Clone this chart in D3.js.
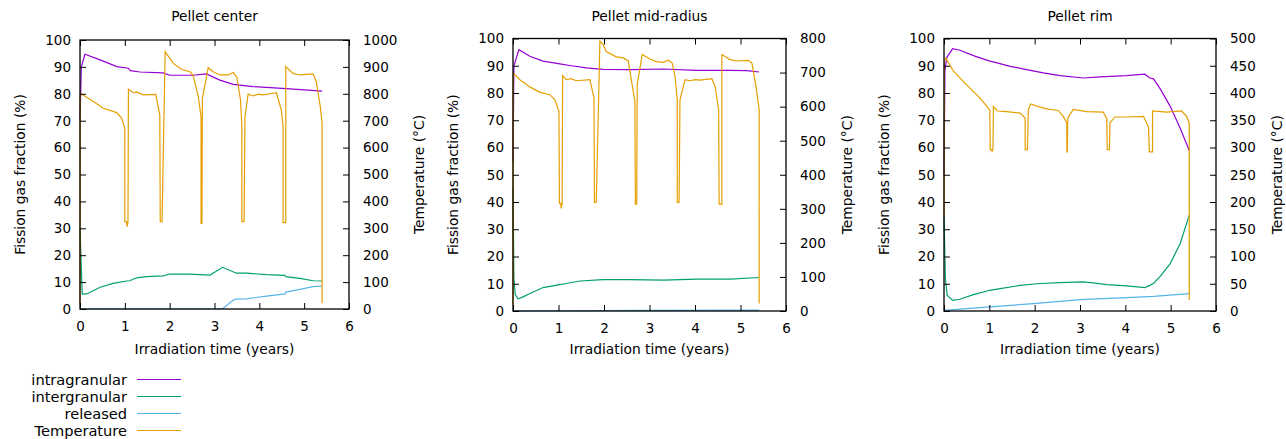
<!DOCTYPE html>
<html>
<head>
<meta charset="utf-8">
<script src="https://cdn.jsdelivr.net/npm/d3@7"></script>
<style>
  body { margin: 0; background: #fff; }
  svg text { font-family: "DejaVu Sans", sans-serif; fill: #000; }
</style>
</head>
<body>
<svg width="1286" height="439"></svg>
<script>
// ---- data: [time (years), value] ----
var centerIntra = [[0,70],[0.03,90],[0.11,94.7],[0.45,92.6],[0.82,90.1],[1.08,89.5],[1.12,88.6],[1.34,88.1],[1.86,87.8],[2.0,86.9],[2.52,86.9],[2.82,87.4],[3.12,85.1],[3.42,83.5],[3.86,82.7],[4.6,81.9],[5.4,81.0]];
var centerInter = [[0,30],[0.05,5.5],[0.15,5.6],[0.45,8.1],[0.74,9.5],[1.04,10.4],[1.11,10.5],[1.26,11.6],[1.48,12.0],[1.86,12.3],[2.0,13.0],[2.45,13.0],[2.9,12.6],[3.18,15.5],[3.49,13.3],[3.71,13.3],[4.16,12.8],[4.57,12.5],[4.59,12.0],[4.9,11.4],[5.2,10.5],[5.4,10.4]];
var centerRel = [[0,0],[3.18,0.1],[3.42,3.3],[3.49,3.7],[3.71,3.8],[4.16,4.8],[4.57,5.6],[4.59,6.3],[4.9,7.3],[5.2,8.3],[5.4,8.5]];
var centerTemp = [[0,20],[0.005,802],[0.3,771],[0.52,746],[0.82,730],[0.93,709],[1.0,672],[1.0,325],[1.04,325],[1.05,306],[1.07,325],[1.08,817],[1.19,804],[1.26,807],[1.41,796],[1.69,798],[1.78,721],[1.79,325],[1.83,325],[1.9,957],[2.08,913],[2.26,891],[2.45,882],[2.52,870],[2.64,789],[2.7,715],[2.7,318],[2.72,318],[2.73,783],[2.86,897],[2.97,882],[3.12,870],[3.3,870],[3.42,879],[3.5,861],[3.58,777],[3.61,684],[3.61,325],[3.66,325],[3.68,715],[3.75,799],[3.86,792],[3.97,799],[4.08,796],[4.38,804],[4.49,740],[4.53,678],[4.53,321],[4.59,321],[4.59,901],[4.75,876],[4.9,870],[5.2,874],[5.27,845],[5.36,752],[5.4,690],[5.4,21]];

var midIntra = [[0,55],[0.02,90],[0.13,95.9],[0.37,93.5],[0.66,91.7],[1.03,90.7],[1.25,90.1],[1.61,89.2],[1.98,88.7],[2.57,88.6],[3.3,88.8],[4.04,88.3],[4.77,88.3],[5.14,88.2],[5.41,87.7]];
var midInter = [[0,45],[0.02,12],[0.05,6],[0.11,4.5],[0.2,5.0],[0.37,6.4],[0.66,8.6],[1.03,9.7],[1.17,10.1],[1.47,11.0],[1.98,11.5],[2.57,11.5],[3.3,11.3],[4.04,11.7],[4.77,11.7],[5.41,12.3]];
var midRel = [[0,0],[1.0,0.1],[3.0,0.2],[5.41,0.3]];
var midTemp = [[0,20],[0.005,699],[0.15,679],[0.37,658],[0.59,642],[0.81,635],[0.92,620],[1.01,586],[1.02,316],[1.05,316],[1.06,301],[1.08,316],[1.09,691],[1.17,679],[1.28,682],[1.39,676],[1.69,679],[1.78,625],[1.79,319],[1.83,319],[1.91,792],[1.98,782],[2.05,762],[2.27,746],[2.42,743],[2.53,735],[2.6,679],[2.68,615],[2.69,314],[2.72,314],[2.73,665],[2.84,753],[3.01,740],[3.15,732],[3.3,730],[3.41,736],[3.5,728],[3.56,689],[3.61,620],[3.61,319],[3.65,319],[3.67,620],[3.78,679],[3.89,676],[4.0,679],[4.11,678],[4.37,682],[4.44,660],[4.52,591],[4.53,314],[4.59,314],[4.59,753],[4.77,738],[4.92,734],[5.17,736],[5.25,728],[5.34,660],[5.41,591],[5.41,22]];

var rimIntra = [[0,50],[0.02,88],[0.06,93],[0.19,96.3],[0.35,95.7],[0.65,93.7],[1.01,91.7],[1.09,91.4],[1.46,89.8],[1.82,88.6],[2.19,87.4],[2.56,86.4],[3.07,85.5],[3.44,85.9],[4.03,86.4],[4.43,86.9],[4.54,85.5],[4.62,85.2],[4.76,81.8],[4.99,75.1],[5.21,67.1],[5.41,58.9]];
var rimInter = [[0,35],[0.03,12],[0.07,5.8],[0.19,3.9],[0.35,4.3],[0.65,6.0],[1.01,7.6],[1.24,8.2],[1.68,9.4],[2.12,10.1],[2.56,10.4],[3.07,10.7],[3.29,10.3],[3.59,9.7],[4.03,9.2],[4.43,8.6],[4.54,9.4],[4.62,10.1],[4.76,12.5],[4.99,17.4],[5.21,24.8],[5.41,35.2]];
var rimRel = [[0,0.2],[1.01,1.5],[1.97,2.7],[3.0,4.2],[4.03,4.9],[4.62,5.4],[5.41,6.4]];
var rimTemp = [[0,170],[0.01,461],[0.04,464],[0.21,440],[0.5,415],[0.79,391],[0.9,380],[1.01,369],[1.02,296],[1.05,296],[1.06,293],[1.08,296],[1.09,375],[1.18,367],[1.38,366],[1.68,363],[1.79,354],[1.79,296],[1.84,296],[1.86,369],[1.91,380],[2.12,374],[2.26,371],[2.52,368],[2.63,357],[2.71,345],[2.71,292],[2.72,292],[2.73,354],[2.85,370],[3.15,366],[3.51,365],[3.59,354],[3.6,296],[3.65,296],[3.66,345],[3.77,356],[4.03,356],[4.4,357],[4.51,338],[4.53,292],[4.6,292],[4.6,367],[4.91,365],[5.24,367],[5.35,357],[5.41,345],[5.41,20]];

var panelTitles = ["Pellet center", "Pellet mid-radius", "Pellet rim"];
var tempMax = [1000, 800, 500];
var tempStep = [100, 100, 50];
var xTicks = [0, 1, 2, 3, 4, 5, 6];
var fracTicks = [0, 10, 20, 30, 40, 50, 60, 70, 80, 90, 100];
var seriesNames = ["intragranular", "intergranular", "released", "Temperature"];
var seriesColors = ["#9400d3", "#009e73", "#56b4e9", "#e69f00"];

var panelData = [
  [centerIntra, centerInter, centerRel, centerTemp],
  [midIntra, midInter, midRel, midTemp],
  [rimIntra, rimInter, rimRel, rimTemp]
];
// plot boxes [left, right, top, bottom]
var boxes = [[80, 349, 40, 309], [513, 786, 38.5, 311], [944, 1216, 38.5, 311]];

var svg = d3.select("svg");
var fmt = d3.format("d");

boxes.forEach(function(b, i) {
  var x = d3.scaleLinear().domain([0, 6]).range([b[0], b[1]]);
  var y = d3.scaleLinear().domain([0, 100]).range([b[3], b[2]]);
  var y2 = d3.scaleLinear().domain([0, tempMax[i]]).range([b[3], b[2]]);
  var g = svg.append("g");

  var line = d3.line().x(function(d) { return x(d[0]); }).y(function(d) { return y(d[1]); });
  var line2 = d3.line().x(function(d) { return x(d[0]); }).y(function(d) { return y2(d[1]); });

  var series = panelData[i];
  for (var s = 0; s < 3; s++) {
    g.append("path").datum(series[s])
      .attr("d", line).attr("fill", "none")
      .attr("stroke", seriesColors[s]).attr("stroke-width", 1.2);
  }
  g.append("path").datum(series[3])
    .attr("d", line2).attr("fill", "none")
    .attr("stroke", seriesColors[3]).attr("stroke-width", 1.2);

  var tickLen = 6;
  function style(ax) {
    ax.select(".domain").remove();
    ax.selectAll("line").attr("stroke", "#000").attr("stroke-width", 1);
    ax.selectAll("text").style("font-size", "13.5px").attr("fill", "#000");
  }

  // axes, ticks pointing inward
  g.append("g").attr("transform", "translate(0," + b[3] + ")")
    .call(d3.axisBottom(x).tickValues(xTicks).tickFormat(fmt).tickSizeInner(-tickLen).tickSizeOuter(0).tickPadding(12))
    .call(style);
  g.append("g").attr("transform", "translate(0," + b[2] + ")")
    .call(d3.axisTop(x).tickValues(xTicks).tickSizeInner(-tickLen).tickSizeOuter(0).tickFormat(""))
    .call(style);
  g.append("g").attr("transform", "translate(" + b[0] + ",0)")
    .call(d3.axisLeft(y).tickValues(fracTicks).tickFormat(fmt).tickSizeInner(-tickLen).tickSizeOuter(0).tickPadding(9))
    .call(style);
  g.append("g").attr("transform", "translate(" + b[1] + ",0)")
    .call(d3.axisRight(y2).tickValues(d3.range(0, tempMax[i] + 1, tempStep[i])).tickFormat(fmt).tickSizeInner(-tickLen).tickSizeOuter(0).tickPadding(14))
    .call(style);

  g.append("rect")
    .attr("x", b[0]).attr("y", b[2])
    .attr("width", b[1] - b[0]).attr("height", b[3] - b[2])
    .attr("fill", "none").attr("stroke", "#000").attr("stroke-width", 1.3);

  var cx = (b[0] + b[1]) / 2, cy = (b[2] + b[3]) / 2;
  var rightOff = tempMax[i] >= 1000 ? 70 : 61;
  g.append("text").attr("x", cx).attr("y", 20.5)
    .attr("text-anchor", "middle").style("font-size", "13.8px").text(panelTitles[i]);
  g.append("text").attr("x", cx).attr("y", 354)
    .attr("text-anchor", "middle").style("font-size", "13.8px").text("Irradiation time (years)");
  g.append("text")
    .attr("transform", "translate(" + (b[0] - 55) + "," + cy + ") rotate(-90)")
    .attr("text-anchor", "middle").style("font-size", "13.8px").text("Fission gas fraction (%)");
  g.append("text")
    .attr("transform", "translate(" + (b[1] + rightOff + 5) + "," + cy + ") rotate(-90)")
    .attr("text-anchor", "middle").style("font-size", "13.8px").text("Temperature (°C)");
});

// legend
var legend = svg.append("g");
seriesNames.forEach(function(name, i) {
  var ly = 379.5 + i * 17;
  legend.append("text").attr("x", 127).attr("y", ly + 5)
    .attr("text-anchor", "end").style("font-size", "14.6px").text(name);
  legend.append("line").attr("x1", 137).attr("x2", 181).attr("y1", ly).attr("y2", ly)
    .attr("stroke", seriesColors[i]).attr("stroke-width", 1.2);
});
</script>
</body>
</html>
